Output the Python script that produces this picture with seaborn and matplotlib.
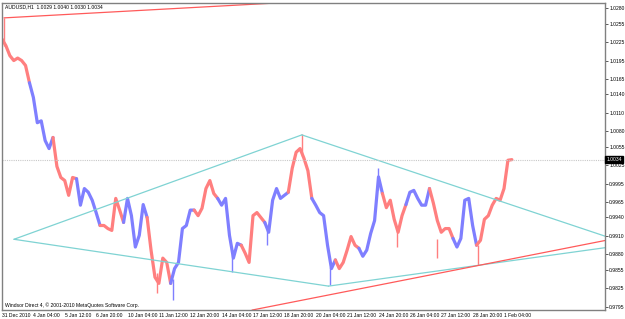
import numpy as np
import pandas as pd
import matplotlib
matplotlib.use("Agg")
import matplotlib.pyplot as plt
import seaborn as sns

# ---- data (AUDUSD H1, close sampled every 4 bars) ----
step = 4
closes = [
    1.0230, 1.0219, 1.0203, 1.0195, 1.0199, 1.0195, 1.0187, 1.0159, 1.0135, 1.0094,
    1.0097, 1.0065, 1.0052, 1.0070, 1.0023, 1.0005, 1.0000, 0.9976, 1.0005, 1.0003,
    0.9960, 0.9987, 0.9981, 0.9968, 0.9948, 0.9927, 0.9927, 0.9922, 0.9919, 0.9971,
    0.9952, 0.9932, 0.9971, 0.9943, 0.9892, 0.9911, 0.9961, 0.9940, 0.9887, 0.9843,
    0.9833, 0.9874, 0.9867, 0.9833, 0.9857, 0.9867, 0.9922, 0.9927, 0.9952, 0.9952,
    0.9943, 0.9955, 0.9987, 1.0000, 0.9979, 0.9971, 0.9960, 0.9971, 0.9911, 0.9874,
    0.9898, 0.9895, 0.9882, 0.9867, 0.9943, 0.9948, 0.9940, 0.9932, 0.9916, 0.9968,
    0.9987, 0.9971, 0.9976, 0.9981, 1.0020, 1.0046, 1.0052, 1.0036, 1.0016, 0.9971,
    0.9960, 0.9948, 0.9943, 0.9895, 0.9857, 0.9871, 0.9857, 0.9867, 0.9887, 0.9909,
    0.9895, 0.9890, 0.9877, 0.9887, 0.9914, 0.9935, 1.0006, 0.9979, 0.9956, 0.9968,
    0.9937, 0.9916, 0.9943, 0.9961, 0.9981, 0.9984, 0.9971, 0.9960, 0.9960, 0.9987,
    0.9963, 0.9935, 0.9916, 0.9922, 0.9922, 0.9906, 0.9892, 0.9906, 0.9968, 0.9971,
    0.9927, 0.9895, 0.9903, 0.9937, 0.9943, 0.9960, 0.9971, 0.9968, 0.9987, 1.0033,
    1.0034,
]
day_starts = [0, 28, 52, 76, 100, 124, 148, 172, 196, 220, 244, 268, 292, 316,
              340, 364, 388, 412, 436, 460, 484]

spike_bars = [2, 158, 174, 235, 270, 306, 335, 383, 403, 444, 485]
spike_lo = [1.0219, 0.9817, 0.9806, 0.9851, 0.9895, 1.0040, 0.9830, 0.9985, 0.9892, 0.9874, 0.9862]
spike_hi = [1.0264, 0.9850, 0.9840, 0.9880, 0.9925, 1.0076, 0.9860, 1.0020, 0.9925, 0.9905, 0.9895]

# trendlines (bar, price) anchors
cyan_lines = [
    ((12.2, 0.99046), (305.8, 1.00742)),
    ((12.2, 0.99046), (333.0, 0.98285)),
    ((305.8, 1.00742), (616.3, 0.99090)),
    ((333.0, 0.98285), (616.3, 0.98912)),
]
red_lines = [
    ((255.0, 0.97896), (616.3, 0.99030)),
    ((2.0, 1.02643), (280.6, 1.02886)),
]

ytick_vals = [1.0280, 1.0255, 1.0225, 1.0195, 1.0165, 1.0140, 1.0110, 1.0080, 1.0055,
              1.0025, 0.9995, 0.9965, 0.9940, 0.9910, 0.9880, 0.9855, 0.9825, 0.9795]
xtick_labels = ["31 Dec 2010", "4 Jan 04:00", "5 Jan 12:00", "6 Jan 20:00", "10 Jan 04:00",
                "11 Jan 12:00", "12 Jan 20:00", "14 Jan 04:00", "17 Jan 12:00", "18 Jan 20:00",
                "20 Jan 04:00", "21 Jan 12:00", "24 Jan 20:00", "26 Jan 04:00", "27 Jan 12:00",
                "28 Jan 20:00", "1 Feb 04:00"]
xtick_step = 32
bid = 1.0034
title = "AUDUSD,H1  1.0029 1.0040 1.0030 1.0034"
footer = "Windsor Direct 4, \u00a9 2001-2010 MetaQuotes Software Corp."

RED = "#FF7F7F"
BLUE = "#7F7FFF"
CYAN = "#7FD3D3"
TLRED = "#FF5A5A"

# ---- build frame with day segments (boundary points duplicated) ----
bars = np.arange(len(closes)) * step
rows = []
for d, start in enumerate(day_starts):
    end = day_starts[d + 1] if d + 1 < len(day_starts) else bars[-1]
    for b, c in zip(bars, closes):
        if start <= b <= end:
            rows.append({"bar": b, "price": c, "day": d})
df = pd.DataFrame(rows)
palette = {d: (RED if d % 2 == 0 else BLUE) for d in range(len(day_starts))}

def day_color(b):
    d = max(i for i, s in enumerate(day_starts) if s <= b)
    return palette[d]

sns.set_style("white")
plt.rcParams["font.family"] = ["Liberation Sans", "DejaVu Sans"]
FS = 3.6

fig = plt.figure(figsize=(6.25, 3.19), dpi=100)
ax = fig.add_axes([2 / 625, 9 / 319, 603 / 625, 307.5 / 319])

sns.lineplot(data=df, x="bar", y="price", hue="day", palette=palette,
             estimator=None, sort=False, legend=False, lw=2.3, ax=ax)
for b, lo, hi in zip(spike_bars, spike_lo, spike_hi):
    ax.vlines(b, lo, hi, color=day_color(b), lw=1.0)

for (x0, y0), (x1, y1) in cyan_lines:
    ax.plot([x0, x1], [y0, y1], color=CYAN, lw=0.9)
for (x0, y0), (x1, y1) in red_lines:
    ax.plot([x0, x1], [y0, y1], color=TLRED, lw=0.9)

ax.axhline(bid, color="#C8C8C8", ls=(0, (1, 1)), lw=0.8)

ax.set_xlim(0, 615)
ax.set_ylim(0.97897, 1.02893)

ax.yaxis.tick_right()
ax.set_yticks(ytick_vals)
ax.set_yticklabels([f"{v:.4f}" for v in ytick_vals])
xt = np.arange(len(xtick_labels)) * xtick_step
ax.set_xticks(xt)
ax.set_xticklabels(xtick_labels, ha="left")
ax.tick_params(axis="both", labelsize=FS, width=0.6, color="#404040", labelcolor="black")
ax.tick_params(axis="x", length=2.0, pad=0.5)
ax.tick_params(axis="y", length=2.0, pad=1.0)
ax.set_xlabel("")
ax.set_ylabel("")

for s in ax.spines.values():
    s.set_color("#808080")
    s.set_linewidth(1.0)
    s.set_visible(True)

ax.text(1.002, bid, f"{bid:.4f}", transform=ax.get_yaxis_transform(),
        va="center", ha="left", fontsize=FS, color="white",
        bbox=dict(boxstyle="square,pad=0.2", fc="black", ec="black"))

ax.text(3 / 603, 1 - 2 / 307.5, title, transform=ax.transAxes, fontsize=FS,
        va="top", ha="left", color="black")
ax.text(3 / 603, 2 / 307.5, footer, transform=ax.transAxes, fontsize=FS,
        va="bottom", ha="left", color="black")

fig.savefig("out.png", dpi=100)
